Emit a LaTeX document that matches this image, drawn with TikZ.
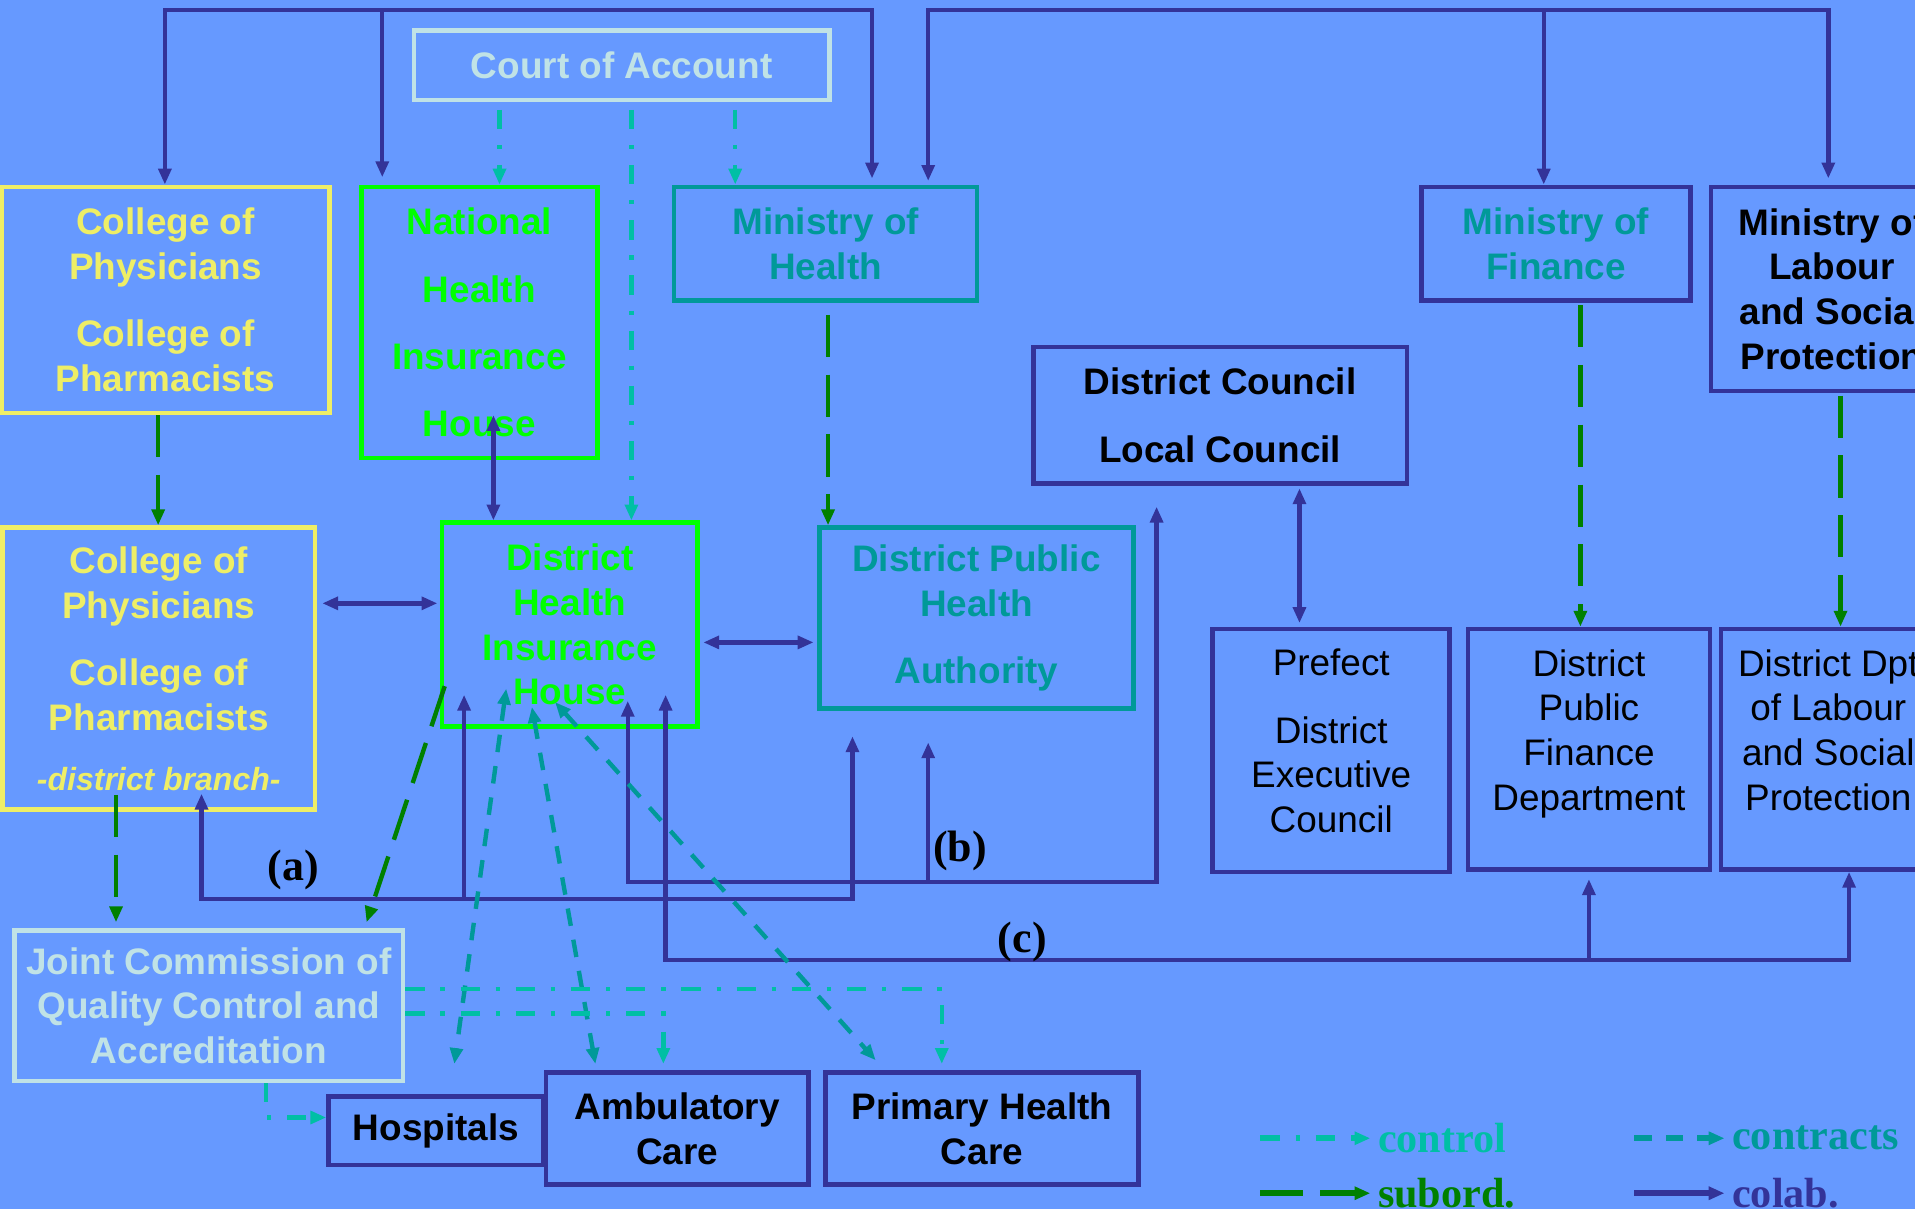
\documentclass[tikz,border=0pt]{standalone}
\usepackage{fontspec}
\setmainfont{Liberation Sans}
\newfontfamily\timesfont{Liberation Serif}
\usetikzlibrary{arrows.meta,positioning,calc}

\definecolor{bgblue}{HTML}{6699FF}
\definecolor{colabc}{HTML}{333399}
\definecolor{subordc}{HTML}{008000}
\definecolor{controlc}{HTML}{00BFA5}
\definecolor{contractc}{HTML}{009999}
\definecolor{paleblue}{HTML}{C0E2E6}
\definecolor{yellowc}{HTML}{EEEE66}
\definecolor{brightgreen}{HTML}{00FF00}

\newlength{\pxu}
\setlength{\pxu}{0.012213cm}

\tikzset{
  box/.style={draw, line width=1.3pt, rectangle, align=center, inner sep=0pt,
    font=\fontsize{10.5}{12.7}\selectfont\bfseries},
  plainbox/.style={box, draw=colabc, font=\fontsize{10.5}{12.7}\selectfont\mdseries},
  colab/.style={draw=colabc, line width=1.25pt},
  subord/.style={draw=subordc, line width=1.25pt, dash pattern=on 12pt off 5pt},
  control/.style={draw=controlc, line width=1.25pt, dash pattern=on 5.5pt off 4.5pt on 1.2pt off 4.5pt},
  contract/.style={draw=contractc, line width=1.25pt, dash pattern=on 5pt off 4pt},
  tag/.style={font=\timesfont\fontsize{12.5}{14}\selectfont\bfseries},
  legtext/.style={font=\timesfont\fontsize{12}{14}\selectfont\bfseries, inner sep=1pt},
  >={Triangle[length=4.5pt,width=3.6pt]}
}

\begin{document}
\begin{tikzpicture}[x=\pxu, y=-\pxu]
\useasboundingbox (0,0) rectangle (1568,990);
\fill[bgblue] (0,0) rectangle (1568,990);
\clip (0,0) rectangle (1568,990);

% top row
\node[box, draw=paleblue, text=paleblue, minimum width=340\pxu, minimum height=57\pxu] (coa) at (509,53.5) {Court of Account};
\node[box, draw=yellowc, text=yellowc, minimum width=269\pxu, minimum height=185\pxu] (cph) at (135.5,245.5)
  {College of\\Physicians\\[6.4pt]College of\\Pharmacists};
\node[box, draw=brightgreen, text=brightgreen, minimum width=193\pxu, minimum height=222\pxu] (nhih) at (392.5,264)
  {National\\[6.4pt]Health\\[6.4pt]Insurance\\[6.4pt]House};
\node[box, draw=contractc, text=contractc, minimum width=248\pxu, minimum height=93\pxu] (moh) at (676,199.5)
  {Ministry of\\Health};
\node[box, draw=colabc, text=contractc, minimum width=220\pxu, minimum height=93\pxu] (mof) at (1274,199.5)
  {Ministry of\\Finance};
\node[box, draw=colabc, minimum width=198\pxu, minimum height=167\pxu] (mol) at (1500,236.5)
  {Ministry of\\Labour\\and Social\\Protection};
\node[box, draw=colabc, minimum width=306\pxu, minimum height=112\pxu] (dc) at (999,340)
  {District Council\\[6.4pt]Local Council};

% district level
\node[box, draw=yellowc, text=yellowc, minimum width=256\pxu, minimum height=231\pxu] (cphd) at (130,547.5)
  {College of\\Physicians\\[6.4pt]College of\\Pharmacists\\[4.3pt]{\fontsize{9.1}{11}\selectfont\itshape -district branch-}};
\node[box, draw=brightgreen, text=brightgreen, minimum width=209\pxu, minimum height=167\pxu] (dhih) at (466.5,511.5)
  {District\\Health\\Insurance\\House};
\node[box, draw=contractc, text=contractc, minimum width=257\pxu, minimum height=148\pxu] (dpha) at (799.5,506)
  {District Public\\Health\\[6.4pt]Authority};
\node[plainbox, minimum width=194\pxu, minimum height=199\pxu, text depth=5.5pt] (pref) at (1090,614.5)
  {Prefect\\[6.4pt]District\\Executive\\Council};
\node[plainbox, minimum width=198\pxu, minimum height=197\pxu, text depth=11pt] (dpfd) at (1301,613.5)
  {District\\Public\\Finance\\Department};
\node[plainbox, minimum width=176\pxu, minimum height=197\pxu, text depth=11pt] (ddl) at (1497,613.5)
  {District Dpt\\of Labour\\and Social\\Protection};

% providers
\node[box, draw=paleblue, text=paleblue, minimum width=318\pxu, minimum height=123\pxu] (jc) at (171,823.5)
  {Joint Commission of\\Quality Control and\\Accreditation};
\node[box, draw=colabc, minimum width=176\pxu, minimum height=56\pxu] (hosp) at (357,926) {Hospitals};
\node[box, draw=colabc, minimum width=215\pxu, minimum height=92\pxu] (amb) at (554.5,924) {Ambulatory\\Care};
\node[box, draw=colabc, minimum width=256\pxu, minimum height=92\pxu] (phc) at (804,924) {Primary Health\\Care};

% colab from the top
\coordinate (tl1) at (135,8);
\coordinate (tl2) at (313,8);
\coordinate (tl3) at (714,8);
\coordinate (tr1) at (760,8);
\coordinate (tr2) at (1264,8);
\coordinate (tr3) at (1497,8);
\draw[colab,<->] (tl1 |- cph.north) |- (tl3) -- ($(tl3 |- moh.north)+(0,-5)$);
\draw[colab,->] (tl2) -- ($(tl2 |- nhih.north)+(0,-6)$);
\draw[colab,<->] ($(tr1 |- moh.north)+(0,-3)$) |- (tr3) -- ($(tr3 |- mol.north)+(0,-5)$);
\draw[colab,->] (tr2) -- (tr2 |- mof.north);

% control by the court
\coordinate (ca) at ($(coa.south)+(-100,6)$);
\coordinate (cb) at ($(coa.south)+(8,6)$);
\coordinate (cc) at ($(coa.south)+(93,6)$);
\draw[control,->] (ca) -- (ca |- nhih.north);
\draw[control,->] (cb) -- (cb |- dhih.north);
\draw[control,->] (cc) -- (cc |- moh.north);

% subordination
\coordinate (sa) at ($(cph.south)+(-6,0)$);
\coordinate (sb) at ($(moh.south)+(2,10)$);
\coordinate (sc) at ($(mof.south)+(20,2)$);
\coordinate (sd) at ($(mol.south)+(7,2)$);
\coordinate (se) at ($(cphd.south)+(-35,-14)$);
\draw[subord,->] (sa) -- (sa |- cphd.north);
\draw[subord,->] (sb) -- (sb |- dpha.north);
\draw[subord,->] (sc) -- (sc |- dpfd.north);
\draw[subord,->] (sd) -- (sd |- ddl.north);
\draw[subord,->] (se) -- ($(se |- jc.north)+(0,-5)$);
\draw[subord,->] ($(dhih.south west)+(4,-35)$) -- ($(jc.north west)+(290,-5)$);

% colab between neighbours
\coordinate (nb) at ($(nhih.south)+(11.5,-37)$);
\coordinate (hb) at ($(cphd.east)+(4,-53.5)$);
\coordinate (db) at ($(dhih.east)+(3,14.5)$);
\coordinate (pb) at ($(dc.south)+(65,2)$);
\draw[colab,<->] (nb) -- (nb |- dhih.north);
\draw[colab,<->] (hb) -- ($(hb -| dhih.west)+(-2,0)$);
\draw[colab,<->] (db) -- ($(db -| dpha.west)+(-3,0)$);
\draw[colab,<->] (pb) -- ($(pb |- pref.north)+(0,-3)$);

% (a)
\coordinate (a1) at (165,736);
\coordinate (a2) at (380,736);
\coordinate (a3) at (698,736);
\draw[colab,<->] ($(a3 |- dpha.south)+(0,21)$) |- (a1) -- ($(a1 |- cphd.south)+(0,-15)$);
\draw[colab,->] (a2) -- ($(a2 |- dhih.south)+(0,-28)$);
\node[tag] (la) at (240,712) {(a)};

% (b)
\coordinate (b1) at (514,722);
\coordinate (b2) at (760,722);
\coordinate (b3) at (947,722);
\draw[colab,<->] ($(b1 |- dhih.south)+(0,-23)$) |- (b3) -- ($(b3 |- dc.south)+(0,17)$);
\draw[colab,->] (b2) -- ($(b2 |- dpha.south)+(0,26)$);
\node[tag] (lb) at (786,697) {(b)};

% (c)
\coordinate (c1) at (545,786);
\coordinate (c2) at (1301,786);
\coordinate (c3) at (1514,786);
\draw[colab,<->] ($(c1 |- dhih.south)+(0,-28)$) |- (c3) -- (c3 |- ddl.south);
\draw[colab,->] (c2) -- ($(c2 |- dpfd.south)+(0,6)$);
\node[tag] (lc) at (837,771) {(c)};

% contracts
\draw[contract,<->] ($(dhih.south)+(-52,-33)$) -- ($(hosp.north)+(15,-25)$);
\draw[contract,<->] ($(dhih.south)+(-31,-18)$) -- ($(amb.north)+(-67,-5)$);
\draw[contract,<->] ($(dhih.south)+(-12,-22)$) -- ($(phc.north)+(-87,-8)$);

% quality control
\coordinate (j1) at ($(jc.east)+(0,-13.5)$);
\coordinate (j2) at ($(jc.east)+(0,6.5)$);
\coordinate (j3) at ($(jc.south)+(47,0)$);
\draw[control,->] (j1) -| ($(phc.north west)+(97,-5)$);
\draw[control,->] (j2) -| ($(amb.north west)+(98,-5)$);
\draw[control,->] (j3) |- ($(hosp.west)+(0,-11)$);

% legend
\coordinate (k1) at (1032,932);
\coordinate (k2) at (1122,932);
\coordinate (k3) at (1338,932);
\coordinate (k4) at (1412,932);
\coordinate (k5) at (1032,977);
\coordinate (k6) at (1122,977);
\coordinate (k7) at (1338,977);
\coordinate (k8) at (1412,977);
\draw[control,->,line width=1.8pt] (k1) -- (k2);
\draw[contract,->,line width=1.8pt] (k3) -- (k4);
\draw[subord,->,line width=1.8pt] (k5) -- (k6);
\draw[colab,->,line width=1.8pt] (k7) -- (k8);
\node[legtext, text=controlc, right=1pt of k2] (lg1) {control};
\node[legtext, text=contractc, right=1pt of k4] (lg2) {contracts};
\node[legtext, text=subordc, right=1pt of k6] (lg3) {subord.};
\node[legtext, text=colabc, right=1pt of k8] (lg4) {colab.};
\end{tikzpicture}
\end{document}
